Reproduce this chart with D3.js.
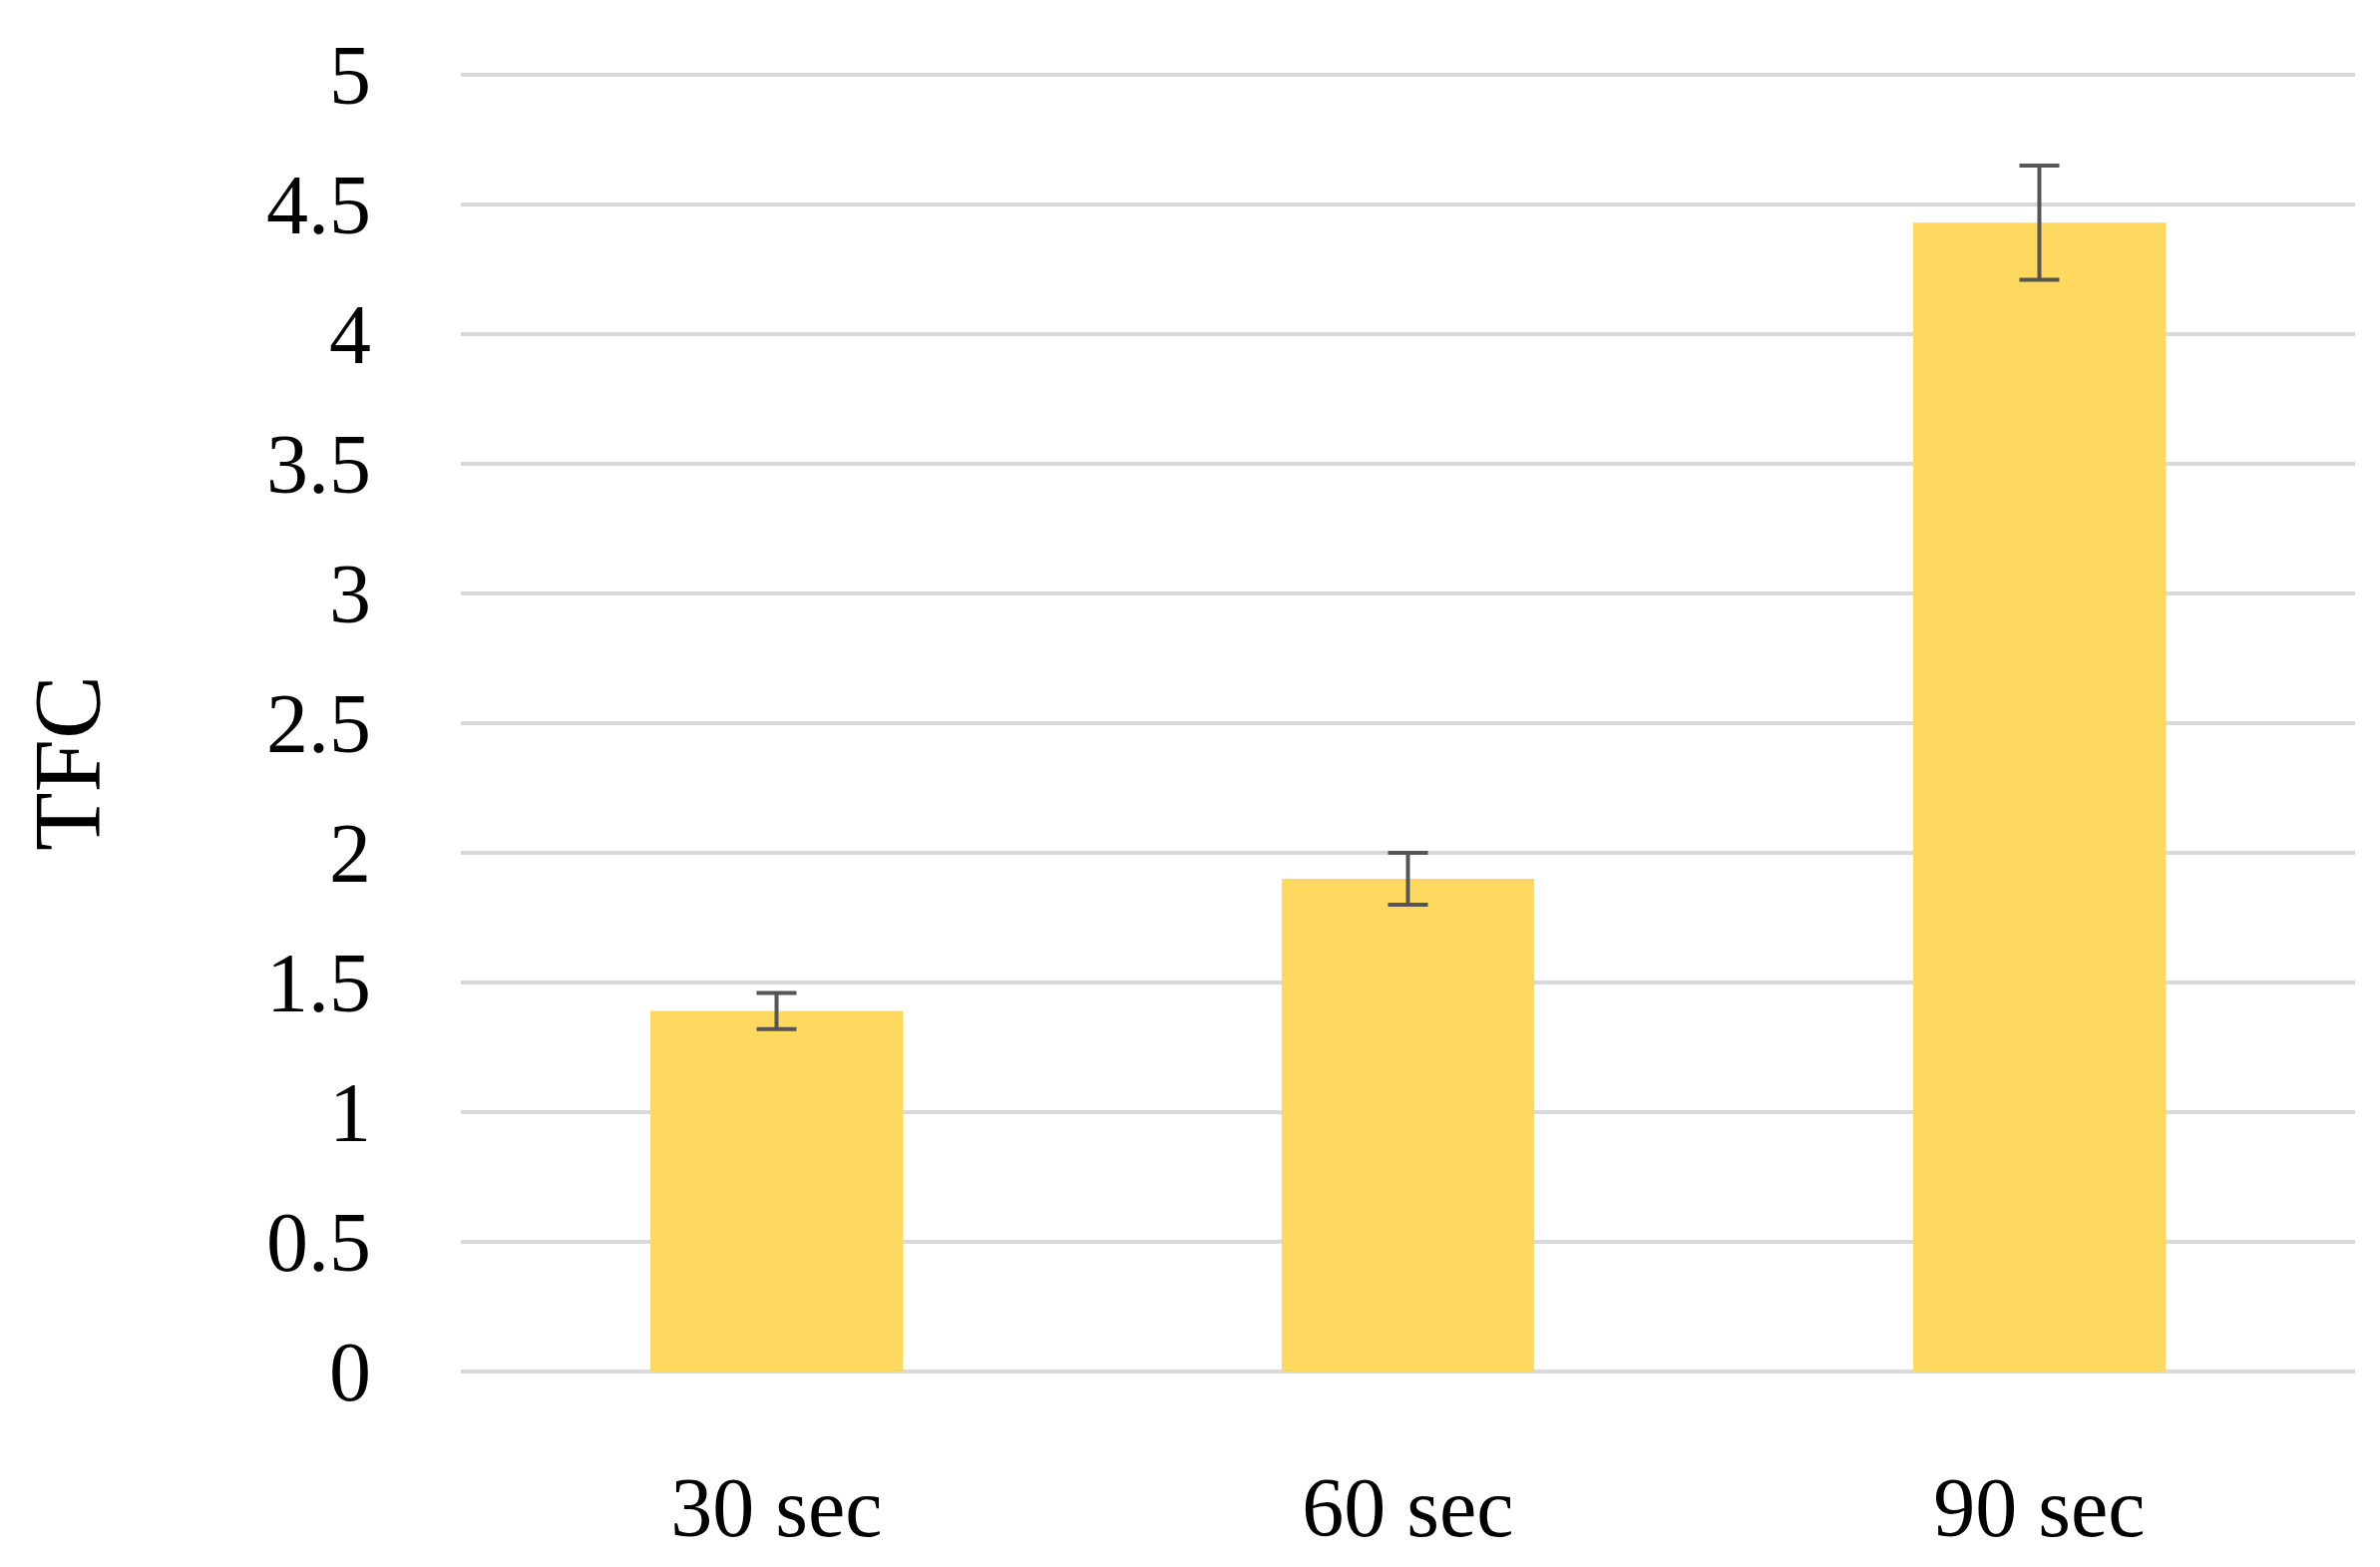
<!DOCTYPE html>
<html><head><meta charset="utf-8">
<script src="https://cdn.jsdelivr.net/npm/d3@7"></script>
<style>body{margin:0;background:#fff}</style>
</head><body><svg id="chart" width="2386" height="1571"></svg>
<script>
var categories = ["30 sec", "60 sec", "90 sec"];
var values = [1.39, 1.90, 4.43];
var errors = [0.07, 0.10, 0.22];
var yTicks = [0, 0.5, 1, 1.5, 2, 2.5, 3, 3.5, 4, 4.5, 5];

var svg = d3.select("#chart");
var font = "'Liberation Serif', 'Times New Roman', serif";

var x = d3.scaleBand().domain(categories).range([462, 2361]);
var y = d3.scaleLinear().domain([0, 5]).range([1375, 75]);

// gridlines
svg.selectAll(".grid").data(yTicks).enter().append("line")
  .attr("x1", 462).attr("x2", 2361)
  .attr("y1", d => y(d)).attr("y2", d => y(d))
  .attr("stroke", "#d9d9d9").attr("stroke-width", 4);

// y tick labels
svg.selectAll(".ytick").data(yTicks).enter().append("text")
  .attr("x", 372).attr("y", d => y(d)).attr("dy", "0.35em")
  .attr("text-anchor", "end").attr("font-family", font).attr("font-size", 84)
  .text(d => d);

var bw = x.bandwidth() * 0.4;
var cx = d => x(d) + x.bandwidth() / 2;

svg.selectAll(".bar").data(categories).enter().append("rect")
  .attr("x", d => cx(d) - bw / 2).attr("width", bw)
  .attr("y", (d, i) => y(values[i]))
  .attr("height", (d, i) => y(0) - y(values[i]))
  .attr("fill", "#ffd85f");

// error bars
var eb = svg.selectAll(".err").data(categories).enter().append("g")
  .attr("stroke", "#555").attr("stroke-width", 4);
eb.append("line").attr("x1", cx).attr("x2", cx)
  .attr("y1", (d, i) => y(values[i] + errors[i])).attr("y2", (d, i) => y(values[i] - errors[i]));
eb.append("line").attr("x1", d => cx(d) - 20).attr("x2", d => cx(d) + 20)
  .attr("y1", (d, i) => y(values[i] + errors[i])).attr("y2", (d, i) => y(values[i] + errors[i]));
eb.append("line").attr("x1", d => cx(d) - 20).attr("x2", d => cx(d) + 20)
  .attr("y1", (d, i) => y(values[i] - errors[i])).attr("y2", (d, i) => y(values[i] - errors[i]));

// x labels
svg.selectAll(".xlab").data(categories).enter().append("text")
  .attr("x", cx).attr("y", 1540)
  .attr("text-anchor", "middle").attr("font-family", font).attr("font-size", 84)
  .text(d => d);

// y axis title
svg.append("text")
  .attr("transform", "translate(100,765) rotate(-90)")
  .attr("text-anchor", "middle").attr("font-family", font).attr("font-size", 96)
  .text("TFC");
</script></body></html>
